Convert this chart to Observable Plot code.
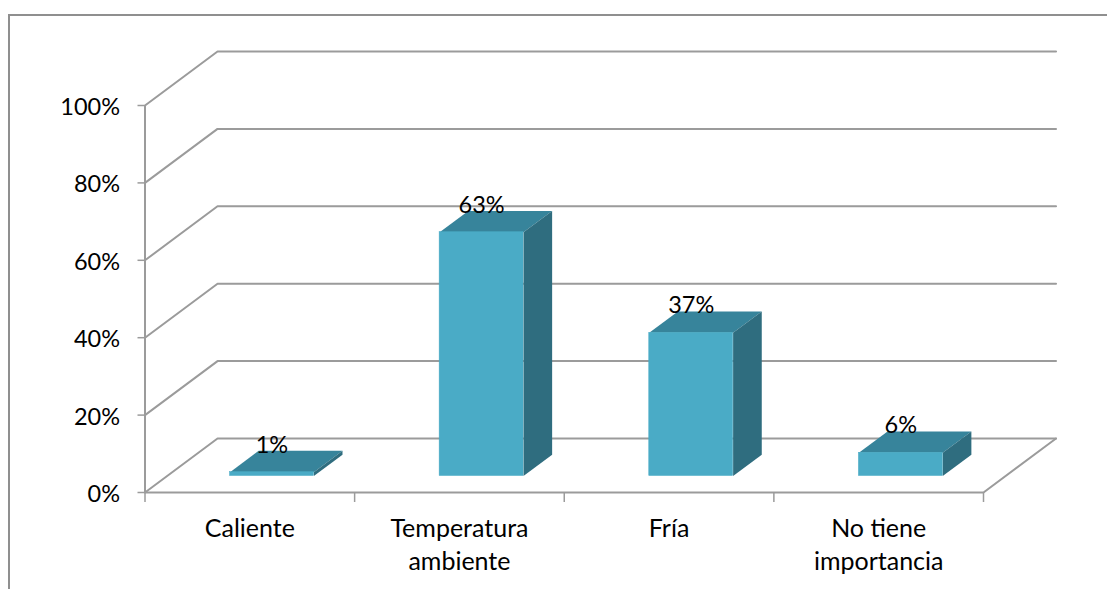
<!DOCTYPE html>
<html lang="es">
<head>
<meta charset="utf-8">
<script src="https://cdn.jsdelivr.net/npm/d3@7"></script>
<script src="https://cdn.jsdelivr.net/npm/@observablehq/plot@0.6"></script>
<style>
  html, body { margin: 0; background: #fff; overflow: hidden; }
  #chart { position: relative; width: 1107px; height: 589px; }
  #chart svg { display: block; position: absolute; left: 0; top: 0; }
  /* Outer chart border: only the top and left edges fall inside the page */
  #frame { position: absolute; left: 8px; top: 14px; right: 0; bottom: 0;
           border-left: 2px solid #8f8f8f; border-top: 2px solid #8f8f8f; }
</style>
</head>
<body>
<div id="chart"><div id="frame"></div></div>
<script>
const categories = ["Caliente", "Temperatura\nambiente", "Fría", "No tiene\nimportancia"];
const values = [1, 63, 37, 6];
const yTicks = [0, 20, 40, 60, 80, 100];
const xTicks = [0, 1, 2, 3, 4];

// Oblique projection: depth 0 is the front of the floor, depth 1 the back wall.
const depthX = 0.346;   // category units per full depth
const depthY = 13.95;   // percentage points per full depth
const project = (cat, val, depth) => ({ x: cat + depth * depthX, y: val + depth * depthY });

// Each bar occupies a slab of the depth and a fraction of its category.
const barFront = 0.305, barBack = 0.7, barWidth = 0.4;

const grid = yTicks.flatMap(v => [
  { line: v, ...project(0, v, 0) },
  { line: v, ...project(0, v, 1) },
  { line: v, ...project(4, v, 1) }
]);
const floorEdge = [project(0, 0, 0), project(4, 0, 0), project(4, 0, 1)];

const bars = values.map((v, i) => {
  const left = i + 0.5 - barWidth / 2, right = i + 0.5 + barWidth / 2;
  return { i, v, left, right,
    front: [project(left, 0, barFront), project(right, v, barFront)],
    top: [[left, v, barFront], [right, v, barFront], [right, v, barBack], [left, v, barBack]]
      .map(p => ({ bar: i, ...project(...p) })),
    side: [[right, 0, barFront], [right, v, barFront], [right, v, barBack], [right, 0, barBack]]
      .map(p => ({ bar: i, ...project(...p) })) };
});

const gridColor = "#9b9b9b";
const frontColor = "#4aabc6";
const font = "Lato, 'Open Sans', sans-serif";

const svg = Plot.plot({
  width: 1107, height: 589,
  marginLeft: 144.5, marginRight: 124, marginTop: 105, marginBottom: 97,
  style: { background: "transparent", fontFamily: font, overflow: "visible" },
  x: { type: "linear", domain: [0, 4] },
  y: { type: "linear", domain: [0, 100] },
  marks: [
    // Walls and floor
    Plot.line(grid, { x: "x", y: "y", z: "line", stroke: gridColor, strokeWidth: 2, curve: "linear" }),
    Plot.line(floorEdge, { x: "x", y: "y", stroke: gridColor, strokeWidth: 2 }),
    Plot.ruleX([0], { y1: 0, y2: 100, stroke: gridColor, strokeWidth: 2 }),

    // Axes: tick marks and tick labels are separate so the labels can sit a little lower
    Plot.axisY({ ticks: yTicks, tickFormat: () => "", tickSize: 7,
                 stroke: gridColor, strokeWidth: 1.5, label: null }),
    Plot.axisY({ ticks: yTicks, tickFormat: d => d + "%", tickSize: 0, tickPadding: 25, dy: 2,
                 fontSize: 23.5, fill: "#000", label: null }),
    Plot.axisX({ ticks: xTicks, tickFormat: () => "", tickSize: 10, tickPadding: 0,
                 stroke: gridColor, strokeWidth: 1.5, label: null }),
    Plot.text(categories, { x: (d, i) => i + 0.5, y: () => 0, text: d => d,
                 dy: 21, lineAnchor: "top", lineHeight: 1.32, fontSize: 25, fill: "#000" }),

    // Bars: top, side and front faces
    Plot.line(bars.flatMap(b => b.top), { x: "x", y: "y", z: "bar", fill: "#37849b", stroke: null, curve: "linear-closed" }),
    Plot.line(bars.flatMap(b => b.side), { x: "x", y: "y", z: "bar", fill: "#2f6d7f", stroke: null, curve: "linear-closed" }),
    Plot.rect(bars, { x1: b => b.front[0].x, x2: b => b.front[1].x, y1: b => b.front[0].y, y2: b => b.front[1].y,
                 fill: frontColor, stroke: frontColor, strokeWidth: 0.5, inset: 0 }),

    // Value labels above each bar
    Plot.text(bars, { x: b => b.i + 0.5 + barFront * depthX, y: b => b.v + barFront * depthY,
                 text: b => b.v + "%", dy: -27, fontSize: 23.5, fill: "#000" })
  ]
});
document.getElementById("chart").appendChild(svg);
</script>
</body>
</html>
